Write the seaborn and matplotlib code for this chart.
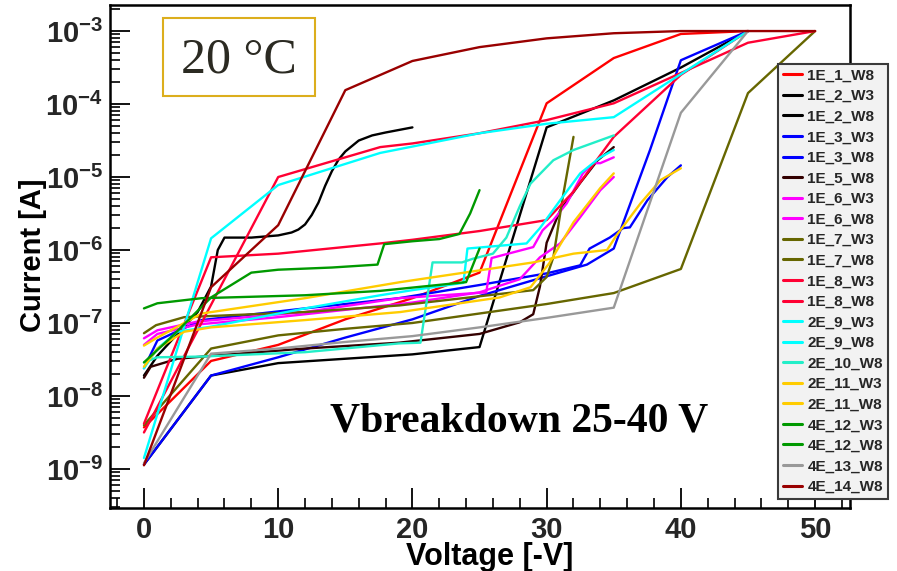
import numpy as np
import pandas as pd
import matplotlib
matplotlib.use("Agg")
import matplotlib.pyplot as plt
import seaborn as sns
from matplotlib.ticker import FixedLocator, FixedFormatter, LogLocator, NullFormatter, MultipleLocator
from matplotlib.patches import Rectangle

# ---------------- data (voltage [-V], log10 of current [A]) ----------------
series_names = ["1E_1_W8", "1E_2_W3", "1E_2_W8", "1E_3_W3", "1E_3_W8", "1E_5_W8",
                "1E_6_W3", "1E_6_W8", "1E_7_W3", "1E_7_W8", "1E_8_W3", "1E_8_W8",
                "2E_9_W3", "2E_9_W8", "2E_10_W8", "2E_11_W3", "2E_11_W8",
                "4E_12_W3", "4E_12_W8", "4E_13_W8", "4E_14_W8"]
series_colors = ["#ff0000", "#000000", "#000000", "#0000ff", "#0000ff", "#330000",
                 "#ff00ff", "#ff00ff", "#666600", "#666600", "#ff0033", "#ff0033",
                 "#00ffff", "#00ffff", "#22eec8", "#ffcc00", "#ffcc00",
                 "#009900", "#009900", "#999999", "#990000"]

v_1E_1_W8 = [0, 5, 10, 15, 20, 25, 30, 35, 40, 45]
l_1E_1_W8 = [-8.43, -7.52, -7.30, -6.95, -6.66, -6.31, -3.99, -3.37, -3.04, -3.0]

v_1E_2_W3 = [0, 1, 2, 3, 4, 5, 5.5, 6, 8, 10, 11, 11.5, 12, 12.5, 13, 13.5, 14, 14.5,
             15, 16, 17, 18, 20]
l_1E_2_W3 = [-7.72, -7.45, -7.25, -7.05, -6.85, -6.5, -6.0, -5.83, -5.83, -5.80, -5.76,
             -5.72, -5.65, -5.52, -5.35, -5.12, -4.92, -4.76, -4.65, -4.50, -4.43,
             -4.39, -4.32]

v_1E_2_W8 = [0, 5, 10, 15, 20, 25, 30, 35, 40, 45]
l_1E_2_W8 = [-8.94, -7.72, -7.55, -7.49, -7.43, -7.33, -4.32, -3.95, -3.5, -3.0]

v_1E_3_W3 = [0, 5, 10, 15, 20, 25, 30, 33, 35, 37.7, 40, 45]
l_1E_3_W3 = [-8.94, -7.72, -7.47, -7.2, -6.95, -6.63, -6.36, -6.2, -5.98, -4.63, -3.40, -3.0]

v_1E_3_W8 = [0, 1, 4.3, 12, 19, 25, 30, 32.5, 33.2, 34.7, 35.7, 36.2, 37.5, 39, 40]
l_1E_3_W8 = [-7.62, -7.24, -6.96, -6.80, -6.66, -6.48, -6.32, -6.21, -5.98, -5.83,
             -5.70, -5.69, -5.32, -5.0, -4.84]

v_1E_5_W8 = [0, 0.5, 2.5, 5, 12, 19, 25, 28, 29, 29.5, 30, 31, 32.5, 33.8, 35]
l_1E_5_W8 = [-7.75, -7.6, -7.49, -7.45, -7.35, -7.27, -7.15, -6.99, -6.88, -6.5, -5.9,
             -5.46, -5.08, -4.77, -4.59]

v_1E_6_W3 = [0, 1, 4, 12, 19, 25.5, 25.9, 29, 29.7, 30.5, 31.5, 32.7, 33.5, 34, 35]
l_1E_6_W3 = [-7.21, -7.10, -6.98, -6.85, -6.66, -6.58, -6.11, -5.96, -5.73, -5.59,
             -5.36, -4.95, -4.81, -4.81, -4.73]

v_1E_6_W8 = [0, 1, 4, 10, 15, 20, 25, 28, 29.5, 31, 32.5, 34, 35]
l_1E_6_W8 = [-7.3, -7.15, -7.02, -6.92, -6.82, -6.72, -6.58, -6.4, -6.10, -5.91, -5.55,
             -5.18, -5.0]

v_1E_7_W3 = [0, 0.9, 3, 12, 19, 29, 30, 30.5, 31.2, 32]
l_1E_7_W3 = [-7.14, -7.03, -6.92, -6.85, -6.76, -6.55, -6.37, -6.1, -5.28, -4.45]

v_1E_7_W8 = [0, 5, 10, 15, 20, 25, 30, 35, 40, 45, 50]
l_1E_7_W8 = [-8.40, -7.35, -7.17, -7.08, -7.0, -6.87, -6.74, -6.59, -6.26, -3.85, -3.0]

v_1E_8_W3 = [0, 5, 10, 17.6, 20, 25, 30, 32, 35, 40, 45]
l_1E_8_W3 = [-8.38, -6.10, -6.05, -5.91, -5.86, -5.74, -5.59, -5.2, -4.45, -3.60, -3.0]

v_1E_8_W8 = [0, 10, 17.6, 20, 25, 30, 35, 45, 50]
l_1E_8_W8 = [-8.50, -5.0, -4.59, -4.54, -4.40, -4.22, -3.99, -3.16, -3.0]

v_2E_9_W3 = [0, 5, 10, 17.6, 25, 30, 35, 45]
l_2E_9_W3 = [-8.85, -5.84, -5.11, -4.67, -4.40, -4.27, -4.18, -3.0]

v_2E_9_W8 = [0, 1, 2.5, 5, 12, 17.6, 20, 23.8, 24.1, 28.5, 29.5, 31, 32.5, 34, 35]
l_2E_9_W8 = [-7.62, -7.35, -7.12, -7.05, -6.80, -6.62, -6.55, -6.45, -5.98, -5.91,
             -5.70, -5.32, -4.95, -4.73, -4.63]

v_2E_10_W8 = [0, 1, 4.3, 12, 19, 20.6, 21.5, 23.7, 24.5, 26, 27, 28, 28.8, 30.5, 32, 35]
l_2E_10_W8 = [-7.54, -7.47, -7.46, -7.40, -7.28, -7.27, -6.17, -6.17, -6.12, -6.05,
              -5.83, -5.4, -5.09, -4.77, -4.63, -4.43]

v_2E_11_W3 = [0, 1, 3, 5, 12, 19.1, 26.5, 28.8, 30.2, 32, 34, 35]
l_2E_11_W3 = [-7.6, -7.35, -7.12, -7.06, -6.96, -6.85, -6.65, -6.51, -6.18, -5.62,
              -5.15, -4.95]

v_2E_11_W8 = [0, 0.9, 4.3, 12, 19.1, 29, 32, 34.5, 35.2, 37, 38.5, 40]
l_2E_11_W8 = [-7.31, -7.21, -6.87, -6.66, -6.44, -6.17, -6.05, -6.0, -5.8, -5.36,
              -5.04, -4.88]

v_4E_12_W3 = [0, 1, 4.3, 12, 17.6, 24, 25]
l_4E_12_W3 = [-6.80, -6.73, -6.66, -6.62, -6.56, -6.44, -5.98]

v_4E_12_W8 = [0, 2, 5, 8, 10, 14, 17.4, 17.9, 20, 22, 23.5, 24.3, 25]
l_4E_12_W8 = [-7.54, -7.2, -6.65, -6.31, -6.27, -6.24, -6.2, -5.92, -5.88, -5.85,
              -5.78, -5.5, -5.18]

v_4E_13_W8 = [0, 5, 10, 15, 20, 25, 30, 35, 40, 45]
l_4E_13_W8 = [-8.92, -7.42, -7.35, -7.26, -7.18, -7.06, -6.93, -6.79, -4.12, -3.0]

v_4E_14_W8 = [0, 5, 10, 15, 20, 25, 30, 35, 40, 45, 50]
l_4E_14_W8 = [-8.95, -6.51, -5.66, -3.81, -3.41, -3.22, -3.10, -3.03, -3.0, -3.0, -3.0]

x_ticks = [0, 10, 20, 30, 40, 50]
y_tick_exponents = [-9, -8, -7, -6, -5, -4, -3]
xlabel_text = "Voltage [-V]"
ylabel_text = "Current [A]"
temp_text = "20 °C"
note_text = "Vbreakdown 25-40 V"

# ---------------- assemble long table ----------------
g = globals()
rows = []
for name in series_names:
    vs = g["v_" + name]
    ls = g["l_" + name]
    for v, l in zip(vs, ls):
        rows.append({"series": name, "V": v, "I": 10.0 ** l})
df = pd.DataFrame(rows)

# ---------------- style ----------------
sns.set_theme(style="ticks")
plt.rcParams["font.family"] = ["Liberation Sans", "DejaVu Sans"]
plt.rcParams["mathtext.fontset"] = "custom"
plt.rcParams["mathtext.rm"] = "Liberation Sans:bold"
plt.rcParams["mathtext.bf"] = "Liberation Sans:bold"
plt.rcParams["mathtext.it"] = "Liberation Sans:bold"

W, H = 897, 571
fig = plt.figure(figsize=(W / 100, H / 100), dpi=100)
fig.patch.set_facecolor("white")
ax_l, ax_r, ax_t, ax_b = 110, 850, 5, 508
ax = fig.add_axes([ax_l / W, 1 - ax_b / H, (ax_r - ax_l) / W, (ax_b - ax_t) / H])
ax.set_facecolor("white")

palette = dict(zip(series_names, series_colors))
sns.lineplot(data=df, x="V", y="I", hue="series", hue_order=series_names,
             palette=palette, estimator=None, sort=False, linewidth=1.7, ax=ax,
             legend=True)
handles, labs = ax.get_legend_handles_labels()
ax.get_legend().remove()

ax.set_yscale("log")
ax.set_xlim(-2.53, 52.6)
ax.set_ylim(10 ** -9.535, 10 ** -2.643)

# ticks
ax.xaxis.set_major_locator(FixedLocator(x_ticks))
ax.xaxis.set_major_formatter(FixedFormatter([str(t) for t in x_ticks]))
ax.xaxis.set_minor_locator(MultipleLocator(2))
ax.yaxis.set_major_locator(FixedLocator([10.0 ** e for e in y_tick_exponents]))
ax.yaxis.set_major_formatter(FixedFormatter([r"$\mathbf{10^{%d}}$" % e for e in y_tick_exponents]))
ax.yaxis.set_minor_locator(LogLocator(base=10, subs=np.arange(2, 10), numticks=30))
ax.yaxis.set_minor_formatter(NullFormatter())
ax.tick_params(axis="both", which="major", direction="in", length=14.5, width=1.3,
               color="black", top=False, right=False)
ax.tick_params(axis="both", which="minor", direction="in", length=7.5, width=1.2,
               color="black", top=False, right=False)
ax.tick_params(axis="x", which="major", pad=6)
ax.tick_params(axis="y", which="major", pad=5)
for lab in ax.get_xticklabels():
    lab.set_fontsize(21)
    lab.set_fontweight("bold")
for lab in ax.get_yticklabels():
    lab.set_fontsize(21)
for sp in ax.spines.values():
    sp.set_linewidth(1.8)
    sp.set_color("black")
ax.set_xlabel("")
ax.set_ylabel("")
ax.grid(False)

fig.text(490 / W, 1 - 565 / H, xlabel_text, ha="center", va="baseline",
         fontsize=22, fontweight="bold", color="black")
fig.text(33 / W, 1 - 255 / H, ylabel_text, ha="center", va="center", rotation=90,
         fontsize=21, fontweight="bold", color="black")

# temperature box
fig.patches.append(Rectangle((163 / W, 1 - 96 / H), (315 - 163) / W, (96 - 18) / H,
                             transform=fig.transFigure, facecolor="white",
                             edgecolor="#dcae1d", linewidth=1.5, zorder=5))
fig.text(239 / W, 1 - 60 / H, temp_text, ha="center", va="center", fontsize=36,
         family="Liberation Serif", color="#2b2a22", zorder=6)

# annotation
fig.text(519 / W, 1 - 422 / H, note_text, ha="center", va="center", fontsize=30,
         family="Liberation Serif", fontweight="bold", color="black")

# legend
leg = fig.legend(handles, labs, loc="upper left", bbox_to_anchor=(778 / W, 1 - 64 / H),
                 frameon=True, fancybox=False, framealpha=1, facecolor="#f2f2f2",
                 edgecolor="#3a3a3a", prop={"family": "Liberation Sans", "weight": "bold",
                                            "size": 11},
                 handlelength=1.3, handletextpad=0.33, borderpad=0.3,
                 labelspacing=0.43, borderaxespad=0)
leg.get_frame().set_linewidth(1.5)
for ln in leg.get_lines():
    ln.set_linewidth(2.2)

fig.savefig("out.png", dpi=100, facecolor="white")
